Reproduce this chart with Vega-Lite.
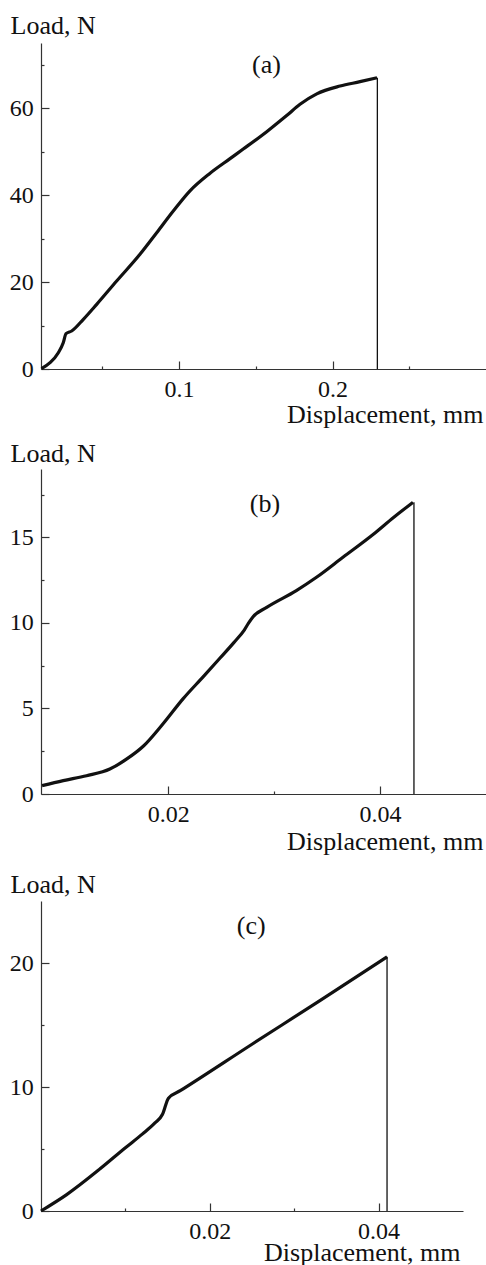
{
  "$schema": "https://vega.github.io/schema/vega-lite/v6.json",
  "padding": {"left": 9, "top": 12, "right": 0, "bottom": 0},
  "background": "white",
  "config": {
    "view": {"stroke": null},
    "font": "Liberation Serif",
    "axis": {"labelFont": "Liberation Serif", "titleFont": "Liberation Serif", "labelFontSize": 24, "titleFontSize": 26, "labelColor": "#111", "titleColor": "#111", "titleFontWeight": "normal", "domainColor": "#333", "tickColor": "#333", "domainWidth": 1.2, "tickWidth": 1.2, "grid": false, "labelFlush": false, "labelOverlap": false}
  },
  "datasets": {
    "curveA": [
      {"displacement": 0.0103, "load": 0.1}, {"displacement": 0.0159, "load": 1.45}, {"displacement": 0.0213, "load": 3.75},
      {"displacement": 0.0245, "load": 6.05}, {"displacement": 0.0263, "load": 8.12}, {"displacement": 0.03, "load": 8.74},
      {"displacement": 0.0376, "load": 11.43}, {"displacement": 0.0463, "load": 14.88}, {"displacement": 0.0593, "load": 20.24},
      {"displacement": 0.0745, "load": 26.4}, {"displacement": 0.0854, "load": 31.36}, {"displacement": 0.0962, "load": 36.35},
      {"displacement": 0.1071, "load": 41.0}, {"displacement": 0.12, "load": 45.0}, {"displacement": 0.1332, "load": 48.4},
      {"displacement": 0.1418, "load": 50.6}, {"displacement": 0.1571, "load": 54.6}, {"displacement": 0.1701, "load": 58.3},
      {"displacement": 0.1788, "load": 60.9}, {"displacement": 0.1897, "load": 63.3}, {"displacement": 0.2049, "load": 65.1},
      {"displacement": 0.2179, "load": 66.1}, {"displacement": 0.229, "load": 67.0}
    ],
    "dropA": [{"displacement": 0.2292, "load": 67.0, "base": 0}],
    "labelA": [{"displacement": 0.1475, "load": 68.2, "label": "(a)"}],
    "curveB": [
      {"displacement": 0.0081, "load": 0.49}, {"displacement": 0.0101, "load": 0.78}, {"displacement": 0.0123, "load": 1.07},
      {"displacement": 0.0145, "load": 1.46}, {"displacement": 0.0161, "load": 2.05}, {"displacement": 0.0177, "load": 2.82},
      {"displacement": 0.0195, "load": 4.09}, {"displacement": 0.0214, "load": 5.56}, {"displacement": 0.0233, "load": 6.85},
      {"displacement": 0.0249, "load": 7.95}, {"displacement": 0.0262, "load": 8.85}, {"displacement": 0.0272, "load": 9.6},
      {"displacement": 0.0276, "load": 10.0}, {"displacement": 0.028, "load": 10.35}, {"displacement": 0.0293, "load": 10.91},
      {"displacement": 0.0321, "load": 11.89}, {"displacement": 0.034, "load": 12.67}, {"displacement": 0.0365, "load": 13.84},
      {"displacement": 0.0394, "load": 15.2}, {"displacement": 0.0413, "load": 16.18}, {"displacement": 0.0431, "load": 17.05}
    ],
    "dropB": [{"displacement": 0.0432, "load": 17.05, "base": 0}],
    "labelB": [{"displacement": 0.0277, "load": 16.5, "label": "(b)"}],
    "curveC": [
      {"displacement": 0.0, "load": 0.0}, {"displacement": 0.003, "load": 1.3}, {"displacement": 0.007, "load": 3.4},
      {"displacement": 0.01, "load": 5.1}, {"displacement": 0.012, "load": 6.2}, {"displacement": 0.0135, "load": 7.1},
      {"displacement": 0.0144, "load": 7.8}, {"displacement": 0.0151, "load": 9.1}, {"displacement": 0.0165, "load": 9.7},
      {"displacement": 0.025, "load": 13.45}, {"displacement": 0.033, "load": 16.95}, {"displacement": 0.041, "load": 20.5}
    ],
    "dropC": [{"displacement": 0.041, "load": 20.5, "base": 0}],
    "labelC": [{"displacement": 0.0232, "load": 22.3, "label": "(c)"}]
  },
  "vconcat": [
    {
      "bounds": "flush",
      "spacing": 100,
      "vconcat": [
        {
          "width": 445, "height": 326,
          "layer": [
            {
              "data": {"name": "curveA"},
              "mark": {"type": "line", "color": "#111", "strokeWidth": 3.2, "interpolate": "monotone"},
              "encoding": {
                "x": {"field": "displacement", "type": "quantitative", "scale": {"domain": [0.01, 0.3], "nice": false, "zero": false},
                  "axis": {"orient": "bottom", "values": [0.1, 0.2], "format": "~r", "tickSize": -8, "labelPadding": 35, "labelBaseline": "alphabetic", "title": "Displacement, mm", "titleAlign": "right", "titleAnchor": null, "titleX": 442, "titleY": 53, "titleBaseline": "alphabetic"}},
                "y": {"field": "load", "type": "quantitative", "scale": {"domain": [0, 75], "nice": false},
                  "axis": {"orient": "left", "values": [0, 20, 40, 60], "format": "~r", "tickSize": -8, "labelPadding": 15.7, "title": "Load, N", "titleAngle": 0, "titleAlign": "left", "titleBaseline": "alphabetic", "titleX": -31, "titleY": -10}}
              }
            },
            {
              "data": {"name": "dropA"},
              "mark": {"type": "rule", "color": "#111", "strokeWidth": 1.3},
              "encoding": {
                "x": {"field": "displacement", "type": "quantitative", "axis": {"orient": "bottom", "values": [0.05, 0.15, 0.25], "labels": false, "domain": false, "tickSize": -3, "title": null}},
                "y": {"field": "load", "type": "quantitative", "axis": {"orient": "left", "values": [10, 30, 50, 70], "labels": false, "domain": false, "tickSize": -3, "title": null}},
                "y2": {"field": "base"}
              }
            },
            {
              "data": {"name": "labelA"},
              "mark": {"type": "text", "font": "Liberation Serif", "fontSize": 26, "color": "#111", "align": "left", "baseline": "alphabetic"},
              "encoding": {
                "x": {"field": "displacement", "type": "quantitative", "axis": null},
                "y": {"field": "load", "type": "quantitative", "axis": null},
                "text": {"field": "label"}
              }
            }
          ],
          "resolve": {"axis": {"x": "independent", "y": "independent"}}
        },
        {
          "width": 445, "height": 325,
          "layer": [
            {
              "data": {"name": "curveB"},
              "mark": {"type": "line", "color": "#111", "strokeWidth": 3.2, "interpolate": "monotone"},
              "encoding": {
                "x": {"field": "displacement", "type": "quantitative", "scale": {"domain": [0.008, 0.05], "nice": false, "zero": false},
                  "axis": {"orient": "bottom", "values": [0.02, 0.04], "format": "~r", "tickSize": -8, "labelPadding": 35, "labelBaseline": "alphabetic", "title": "Displacement, mm", "titleAlign": "right", "titleAnchor": null, "titleX": 442, "titleY": 55, "titleBaseline": "alphabetic"}},
                "y": {"field": "load", "type": "quantitative", "scale": {"domain": [0, 19], "nice": false},
                  "axis": {"orient": "left", "values": [0, 5, 10, 15], "format": "~r", "tickSize": -8, "labelPadding": 15.7, "title": "Load, N", "titleAngle": 0, "titleAlign": "left", "titleBaseline": "alphabetic", "titleX": -31, "titleY": -8}}
              }
            },
            {
              "data": {"name": "dropB"},
              "mark": {"type": "rule", "color": "#111", "strokeWidth": 1.3},
              "encoding": {
                "x": {"field": "displacement", "type": "quantitative", "axis": {"orient": "bottom", "values": [0.03], "labels": false, "domain": false, "tickSize": -3, "title": null}},
                "y": {"field": "load", "type": "quantitative", "axis": {"orient": "left", "values": [2.5, 7.5, 12.5, 17.5], "labels": false, "domain": false, "tickSize": -3, "title": null}},
                "y2": {"field": "base"}
              }
            },
            {
              "data": {"name": "labelB"},
              "mark": {"type": "text", "font": "Liberation Serif", "fontSize": 26, "color": "#111", "align": "left", "baseline": "alphabetic"},
              "encoding": {
                "x": {"field": "displacement", "type": "quantitative", "axis": null},
                "y": {"field": "load", "type": "quantitative", "axis": null},
                "text": {"field": "label"}
              }
            }
          ],
          "resolve": {"axis": {"x": "independent", "y": "independent"}}
        }
      ]
    },
    {
      "width": 422, "height": 310,
      "layer": [
        {
          "data": {"name": "curveC"},
          "mark": {"type": "line", "color": "#111", "strokeWidth": 3.2, "interpolate": "monotone"},
          "encoding": {
            "x": {"field": "displacement", "type": "quantitative", "scale": {"domain": [0, 0.05], "nice": false, "zero": false},
              "axis": {"orient": "bottom", "values": [0.02, 0.04], "format": "~r", "tickSize": -8, "labelPadding": 35, "labelBaseline": "alphabetic", "title": "Displacement, mm", "titleAlign": "right", "titleAnchor": null, "titleX": 419, "titleY": 49, "titleBaseline": "alphabetic"}},
            "y": {"field": "load", "type": "quantitative", "scale": {"domain": [0, 25], "nice": false},
              "axis": {"orient": "left", "values": [0, 10, 20], "format": "~r", "tickSize": -8, "labelPadding": 15.7, "title": "Load, N", "titleAngle": 0, "titleAlign": "left", "titleBaseline": "alphabetic", "titleX": -31, "titleY": -9}}
          }
        },
        {
          "data": {"name": "dropC"},
          "mark": {"type": "rule", "color": "#111", "strokeWidth": 1.3},
          "encoding": {
            "x": {"field": "displacement", "type": "quantitative", "axis": {"orient": "bottom", "values": [0.01, 0.03], "labels": false, "domain": false, "tickSize": -3, "title": null}},
            "y": {"field": "load", "type": "quantitative", "axis": {"orient": "left", "values": [5, 15], "labels": false, "domain": false, "tickSize": -3, "title": null}},
            "y2": {"field": "base"}
          }
        },
        {
          "data": {"name": "labelC"},
          "mark": {"type": "text", "font": "Liberation Serif", "fontSize": 26, "color": "#111", "align": "left", "baseline": "alphabetic"},
          "encoding": {
            "x": {"field": "displacement", "type": "quantitative", "axis": null},
            "y": {"field": "load", "type": "quantitative", "axis": null},
            "text": {"field": "label"}
          }
        }
      ],
      "resolve": {"axis": {"x": "independent", "y": "independent"}}
    }
  ],
  "spacing": 17,
  "bounds": "full"
}
